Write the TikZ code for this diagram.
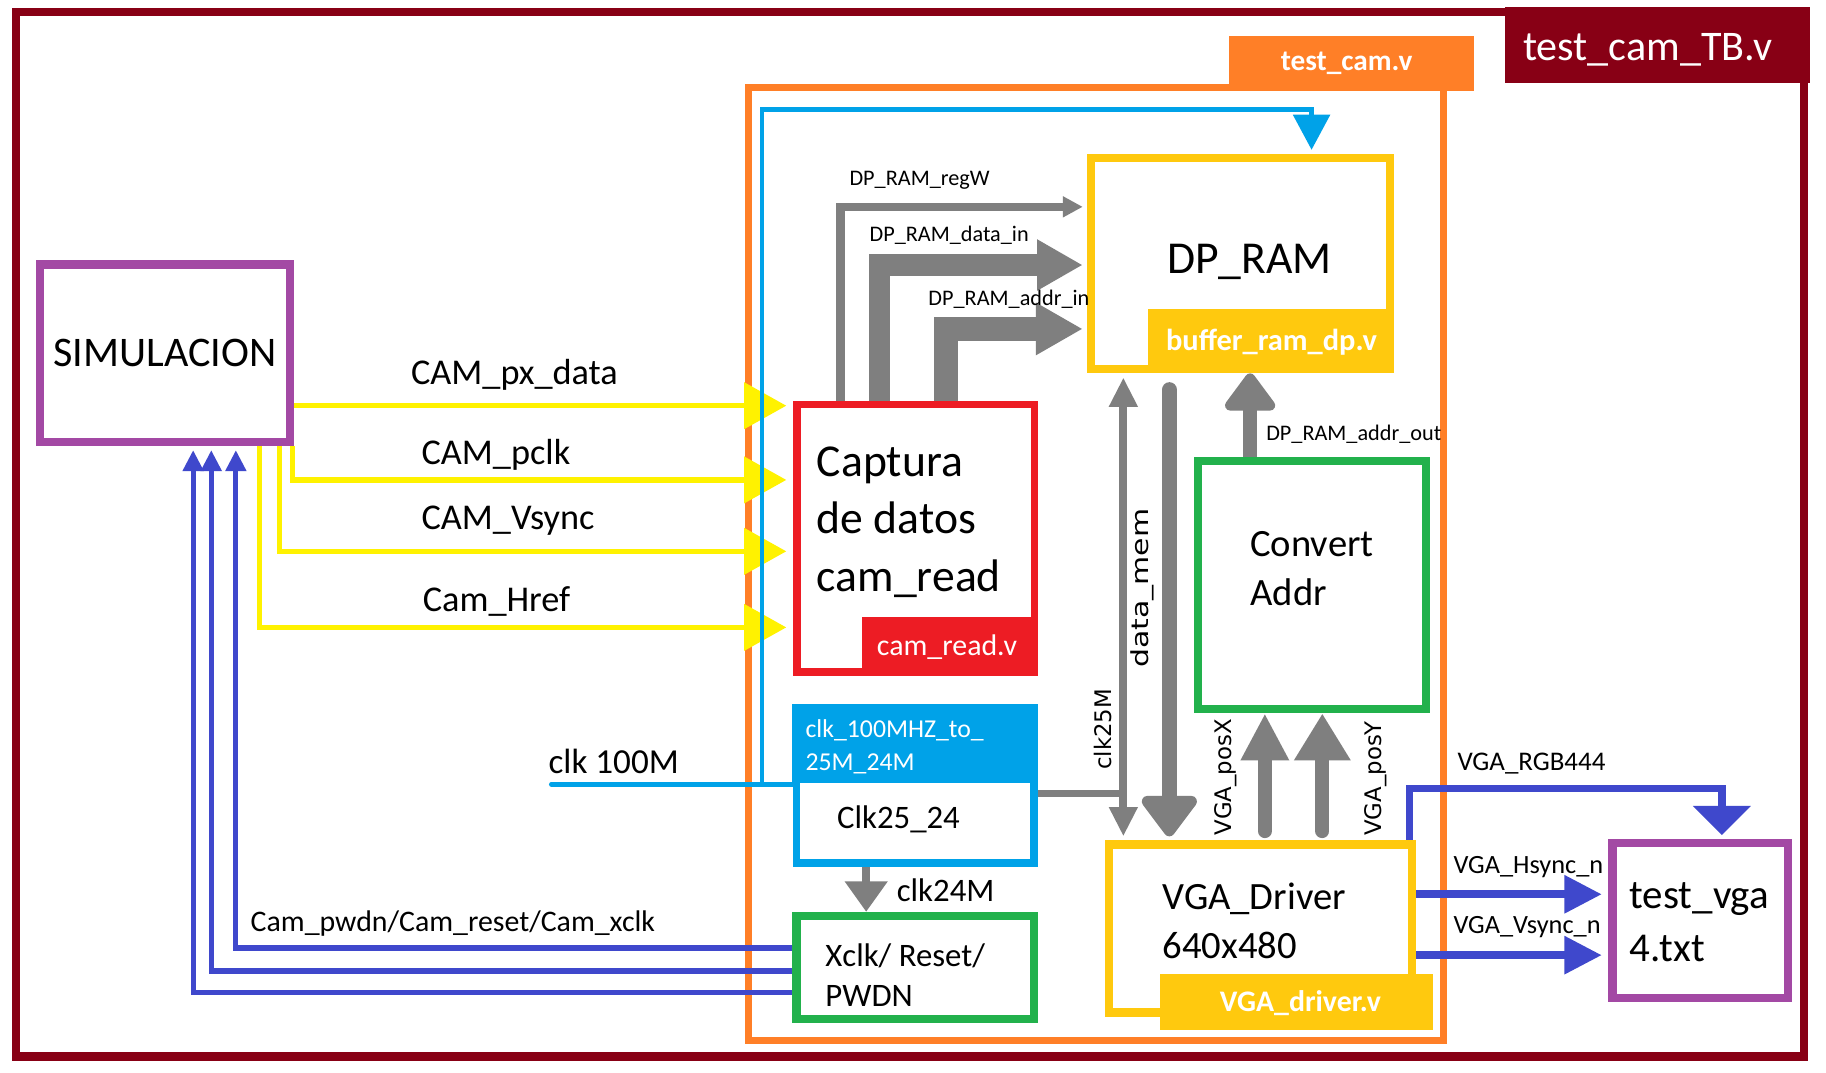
\documentclass[tikz,border=0pt]{standalone}
\usepackage{fontspec}
\setmainfont{Carlito}
\newfontfamily\dejaVu{DejaVu Sans}
\usepackage{tikz}
\usetikzlibrary{positioning, arrows.meta}
\definecolor{frameRed}{RGB}{136,0,21}
\definecolor{frameOrange}{RGB}{255,127,39}
\definecolor{wireYellow}{RGB}{255,242,0}
\definecolor{moduleGold}{RGB}{255,201,14}
\definecolor{moduleRed}{RGB}{237,28,36}
\definecolor{moduleGreen}{RGB}{34,177,76}
\definecolor{clkCyan}{RGB}{0,162,232}
\definecolor{simPurple}{RGB}{163,73,164}
\definecolor{busIndigo}{RGB}{63,72,204}
\definecolor{busGray}{RGB}{127,127,127}
\pgfdeclarelayer{frameLayer}
\pgfdeclarelayer{wireLayer}
\pgfsetlayers{frameLayer,wireLayer,main}
\tikzstyle{canvas} = [x = 1pt, y = -1pt]
\tikzstyle{moduleBox} = [draw, fill=white, inner sep=0pt, line width=7pt]
\tikzstyle{fileTag} = [inner sep=0pt]
\tikzstyle{boxText} = [inner sep=0pt, anchor=base west]
\tikzstyle{sideText} = [inner sep=0pt, rotate=90, font=\dejaVu\fontsize{19.5}{19.5}\selectfont]
\tikzstyle{yellowWire} = [draw=wireYellow, line width=4.5pt, -{Triangle[width=39pt,length=36pt]}, shorten >=6pt]
\tikzstyle{cyanWire} = [draw=clkCyan, line width=4pt]
\tikzstyle{indigoWire} = [draw=busIndigo, line width=4.5pt, -{Triangle[width=17pt,length=18pt]}, shorten >=3.5pt]
\tikzstyle{indigoBus} = [draw=busIndigo, line width=6.5pt]
\tikzstyle{grayWire} = [draw=busGray, line width=7pt]
\newcommand{\fontAt}[1]{\fontsize{#1}{#1}\selectfont}
\newcommand{\textAt}[4]{\node [boxText, font=\fontAt{#1}] (#2) at (#3) {#4};}
\newcommand{\whiteTextAt}[4]{\node [boxText, text=white, font=#1] (#2) at (#3) {#4};}

\begin{document}
\begin{tikzpicture}[canvas]
\useasboundingbox (0,0) rectangle (1560,915.9);
\begin{pgfonlayer}{frameLayer}
  \fill [white] (0,0) rectangle (1560,915.9);
  \node [draw=frameRed, line width=7pt, inner sep=0pt, minimum width=1527.5pt, minimum height=892.5pt] (tbFrame) at (777.75,456.25) {};
  \node [fileTag, fill=frameRed, minimum width=260pt, minimum height=64.6pt] (tbTag) at (1416,38.7) {};
  \node [draw=frameOrange, line width=6pt, inner sep=0pt, minimum width=593.5pt, minimum height=814pt] (camFrame) at (936.25,482) {};
  \node [fileTag, fill=frameOrange, minimum width=209pt, minimum height=47.3pt] (camTag) at (1154.5,54.35) {};
\end{pgfonlayer}

% modules
\node [moduleBox, draw=simPurple, minimum width=213pt, minimum height=151.5pt, font=\fontAt{36}] (simulacion) at (141,301.75) {SIMULACION};
\node [moduleBox, draw=moduleRed, line width=6.5pt, minimum width=202.75pt, minimum height=228.75pt] (captura) at (782.375,459.875) {};
\node [fileTag, fill=moduleRed, minimum width=151pt, minimum height=50.1pt] (camReadTag) at (811.5,552.45) {};
\node [moduleBox, draw=moduleGold, minimum width=255.5pt, minimum height=180.5pt] (dpRam) at (1059.75,225.25) {};
\node [fileTag, fill=moduleGold, minimum width=210pt, minimum height=55pt] (dpRamTag) at (1086,291.5) {};
\node [moduleBox, draw=moduleGreen, minimum width=195pt, minimum height=212.5pt] (convertAddr) at (1121,499.75) {};
\node [moduleBox, draw=clkCyan, line width=6.5pt, minimum width=203pt, minimum height=132.5pt] (clkBox) at (782,671.25) {};
\node [fileTag, fill=clkCyan, minimum width=210pt, minimum height=67.3pt] (clkTag) at (782,635.35) {};
\node [moduleBox, draw=moduleGreen, minimum width=203pt, minimum height=88pt] (xclkBox) at (782,826.5) {};
\node [moduleBox, draw=moduleGold, minimum width=259pt, minimum height=143.5pt] (vgaDriver) at (1077,793.25) {};
\node [fileTag, fill=moduleGold, minimum width=233pt, minimum height=48pt] (vgaTag) at (1107.5,856) {};
\node [moduleBox, draw=simPurple, minimum width=150pt, minimum height=132pt] (testVga) at (1452.5,786.5) {};

% routing points
\coordinate (pxDataLevel) at (254,346.6);
\coordinate (pclkLevel) at (250,410);
\coordinate (vsyncInLevel) at (239,471);
\coordinate (hrefLevel) at (222,536);
\coordinate (clkIn) at (471,670);
\coordinate (clkTap) at (651,670);
\coordinate (ramClkTurn) at (1120.5,93.5);
\coordinate (pwdnLevel) at (201.5,810);
\coordinate (resetLevel) at (180.5,829.5);
\coordinate (xclkLevel) at (165,848);
\coordinate (regWBend) at (718,176.7);
\coordinate (dataInBend) at (751,226.4);
\coordinate (addrInBend) at (808.5,281);
\coordinate (clk25Axis) at (959.7,677.6);
\coordinate (memAxis) at (999,500);
\coordinate (addrOutAxis) at (1068,350);
\coordinate (posXAxis) at (1080.6,660);
\coordinate (posYAxis) at (1129.7,660);
\coordinate (clk24Axis) at (740,760);
\coordinate (rgbRise) at (1204,673.5);
\coordinate (rgbDrop) at (1471,673.5);
\coordinate (hsyncOutLevel) at (1300,764);
\coordinate (vsyncOutLevel) at (1300,816);

\begin{pgfonlayer}{wireLayer}
  % camera inputs
  \draw [yellowWire] (simulacion.east |- pxDataLevel) -- (captura.west |- pxDataLevel);
  \foreach \lvl in {pclkLevel,vsyncInLevel,hrefLevel}
    \draw [yellowWire] (simulacion.south -| \lvl) |- (captura.west |- \lvl);
  % clock 100M
  \draw [cyanWire, line cap=round] (clkIn) -- (clkBox.west |- clkIn);
  \draw [cyanWire, -{Triangle[width=31pt,length=30pt]}, shorten >=3.5pt] (clkTap) |- (ramClkTurn) -- (dpRam.north -| ramClkTurn);
  % back to simulation
  \foreach \lvl in {pwdnLevel,resetLevel,xclkLevel}
    \draw [indigoWire] (xclkBox.west |- \lvl) -| (simulacion.south -| \lvl);
  % ram inputs
  \draw [grayWire, -{Triangle[width=17pt,length=17pt]}, shorten >=3.5pt] (captura.north -| regWBend) |- (dpRam.west |- regWBend);
  \draw [grayWire, line width=18pt, -{Triangle[width=41pt,length=39pt]}, shorten >=3.5pt] (captura.north -| dataInBend) |- (dpRam.west |- dataInBend);
  \draw [grayWire, line width=20.5pt, -{Triangle[width=42pt,length=40pt]}, shorten >=3.5pt] (captura.north -| addrInBend) |- (dpRam.west |- addrInBend);
  % ram outputs and vga
  \draw [grayWire, {Triangle[width=23pt,length=25pt]}-{Triangle[width=23pt,length=25pt]}, shorten <=3.5pt, shorten >=3.5pt] (dpRam.south -| clk25Axis) -- (vgaDriver.north -| clk25Axis);
  \draw [grayWire, line width=6pt] (clkBox.east |- clk25Axis) -- (clk25Axis);
  \draw [grayWire, line width=13pt, line cap=round, -{Triangle[width=54pt,length=38pt,round]}, shorten <=14pt, shorten >=3.5pt] (dpRam.south -| memAxis) -- (vgaDriver.north -| memAxis);
  \draw [grayWire, line width=12.5pt, -{Triangle[width=49pt,length=35pt,round]}] (convertAddr.north -| addrOutAxis) -- (dpRam.south -| addrOutAxis);
  \draw [grayWire, line width=12pt, line cap=round, -{Triangle[width=38.5pt,length=40pt]}, shorten <=8pt] (vgaDriver.north -| posXAxis) -- (convertAddr.south -| posXAxis);
  \draw [grayWire, line width=12pt, line cap=round, -{Triangle[width=45.5pt,length=40pt]}, shorten <=8pt] (vgaDriver.north -| posYAxis) -- (convertAddr.south -| posYAxis);
  \draw [grayWire, line width=6.5pt, -{Triangle[width=35pt,length=26pt]}] (clkBox.south -| clk24Axis) -- (xclkBox.north -| clk24Axis);
  % vga outputs
  \draw [indigoBus, -{Triangle[width=48pt,length=25pt]}, shorten >=3.5pt] (vgaDriver.north -| rgbRise) |- (rgbDrop) -- (testVga.north -| rgbDrop);
  \draw [indigoBus, line width=7pt, -{Triangle[width=31pt,length=32pt]}, shorten >=5.5pt] (vgaDriver.east |- hsyncOutLevel) -- (testVga.west |- hsyncOutLevel);
  \draw [indigoBus, line width=7pt, -{Triangle[width=31pt,length=32pt]}, shorten >=5.5pt] (vgaDriver.east |- vsyncOutLevel) -- (testVga.west |- vsyncOutLevel);
\end{pgfonlayer}

% file names
\whiteTextAt{\fontAt{36}}{tbLabel}{1301,52}{test\_cam\_TB.v}
\whiteTextAt{\bfseries\fontAt{25}}{camLabel}{1094,59.9}{test\_cam.v}
\whiteTextAt{\fontAt{25.5}}{camReadLabel}{749,560.4}{cam\_read.v}
\whiteTextAt{\bfseries\fontAt{26}}{dpRamTagLabel}{996,299.3}{buffer\_ram\_dp.v}
\whiteTextAt{\fontAt{22}}{clkTagLineA}{688,630.3}{clk\_100MHZ\_to\_}
\whiteTextAt{\fontAt{22}}{clkTagLineB}{688,658}{25M\_24M}
\whiteTextAt{\bfseries\fontAt{25.5}}{vgaTagLabel}{1042,864.3}{VGA\_driver.v}

% module texts
\textAt{39}{capturaLineA}{697.7,406.7}{Captura}
\textAt{39}{capturaLineB}{697.7,456.2}{de datos}
\textAt{39}{capturaLineC}{697.7,505.5}{cam\_read}
\textAt{39}{dpRamLabel}{997,233.6}{DP\_RAM}
\textAt{33}{convertLineA}{1068,475.6}{Convert}
\textAt{33}{convertLineB}{1068,517.5}{Addr}
\textAt{28}{clkLabel}{715,708}{Clk25\_24}
\textAt{28}{xclkLineA}{705,825.3}{Xclk/ Reset/}
\textAt{28}{xclkLineB}{705,859.5}{PWDN}
\textAt{33}{vgaLineA}{993,776.6}{VGA\_Driver}
\textAt{33}{vgaLineB}{993,818.8}{640x480}
\textAt{35}{testVgaLineA}{1392,776}{test\_vga}
\textAt{35}{testVgaLineB}{1392,821.6}{4.txt}

% wire texts
\textAt{31}{pxDataLabel}{351,328.5}{CAM\_px\_data}
\textAt{31}{pclkLabel}{360,397}{CAM\_pclk}
\textAt{31}{vsyncInLabel}{360,452.5}{CAM\_Vsync}
\textAt{31}{hrefLabel}{361,522}{Cam\_Href}
\textAt{30}{clkInLabel}{468.5,661}{clk 100M}
\textAt{25.5}{camCtrlLabel}{214,795.8}{Cam\_pwdn/Cam\_reset/Cam\_xclk}
\textAt{28}{clk24Label}{766,770}{clk24M}
\textAt{19}{regWLabel}{725.6,158.9}{DP\_RAM\_regW}
\textAt{19}{dataInLabel}{742.7,206.5}{DP\_RAM\_data\_in}
\textAt{19}{addrInLabel}{793,261.4}{DP\_RAM\_addr\_in}
\textAt{19}{addrOutLabel}{1081.6,376}{DP\_RAM\_addr\_out}
\textAt{23}{rgbLabel}{1245,658}{VGA\_RGB444}
\textAt{22.5}{hsyncLabel}{1241.6,746}{VGA\_Hsync\_n}
\textAt{22.5}{vsyncOutLabel}{1241.6,797.6}{VGA\_Vsync\_n}
\node [sideText] (clk25Label) at (942.6,623) {clk25M};
\node [sideText, font=\dejaVu\fontAt{20}] (dataMemLabel) at (976,502.5) {\scalebox{1.28}[1]{data\_mem}};
\node [sideText] (posXLabel) at (1047,664) {VGA\_posX};
\node [sideText] (posYLabel) at (1175,665) {VGA\_posY};
\end{tikzpicture}
\end{document}
